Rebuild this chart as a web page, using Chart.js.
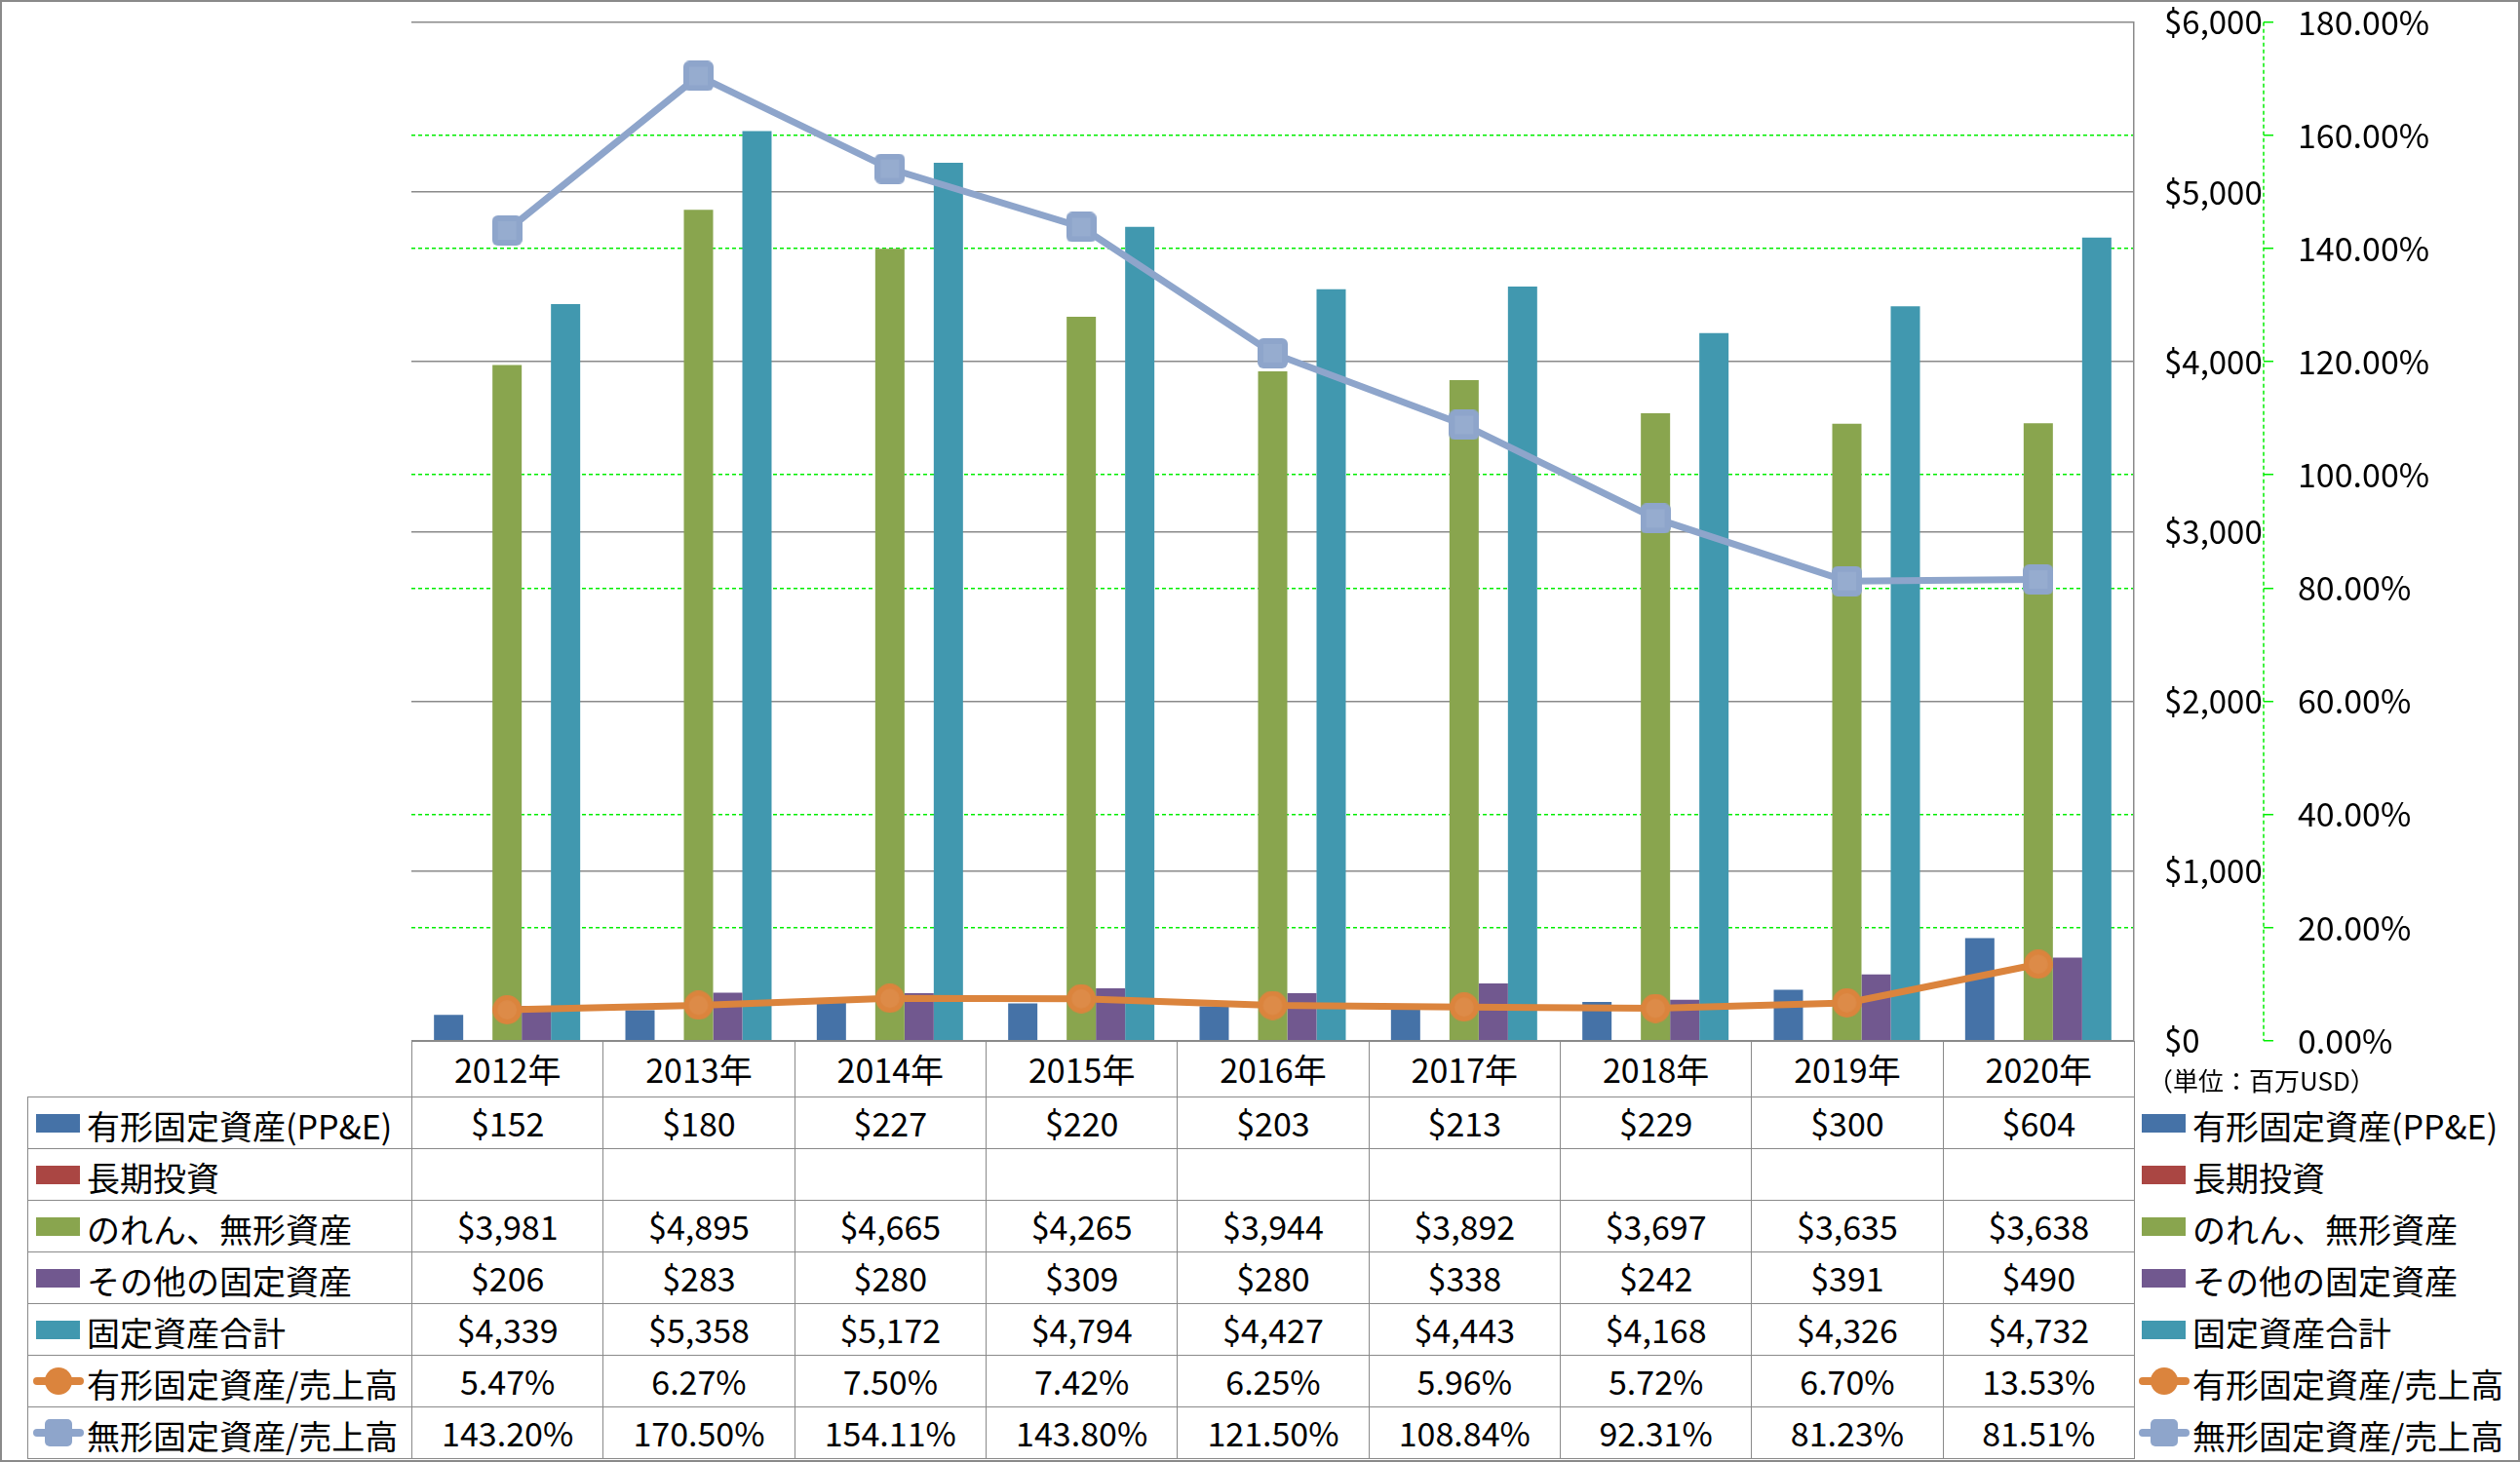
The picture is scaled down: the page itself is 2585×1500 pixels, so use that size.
<!DOCTYPE html>
<html>
<head>
<meta charset="utf-8">
<script src="https://cdn.jsdelivr.net/npm/chart.js@4.4.1/dist/chart.umd.min.js"></script>
<style>
  html, body { margin: 0; padding: 0; background: #fff; overflow: hidden; }
  body { width: 2585px; height: 1500px; position: relative; font-family: "Noto Sans CJK JP", sans-serif; }
  #chart { position: absolute; left: 0; top: 0; z-index: 2; }
  #frame { position: absolute; left: 0; top: 0; width: 2585px; height: 1500px; box-sizing: border-box;
           border: 2px solid #8a8a8a; pointer-events: none; z-index: 5; }
  #unit { position: absolute; left: 2203px; top: 1091px; font-size: 26px; line-height: 34px; z-index: 3; white-space: nowrap; }
  #tbl { position: absolute; left: 28px; top: 1068px; border-collapse: collapse; table-layout: fixed; z-index: 1;
         font-size: 34px; color: #000; }
  #tbl td { border: 1.5px solid #8a8a8a; padding: 0; text-align: center; vertical-align: middle; white-space: nowrap;
            line-height: 1; overflow: hidden; }
  #tbl tr.head td { height: 56px; }
  #tbl tr.body td { height: 52px; }
  #tbl td.blank { border: none; }
  #tbl td.lab { text-align: left; padding-left: 5px; }
  #tbl td.leg { text-align: left; padding-left: 4px; border-top: none; border-bottom: none; border-right: none; }
  .mk { display: inline-block; position: relative; width: 52px; height: 28px; vertical-align: middle; margin-right: 3px; top: -2px; }
  .mk.patch i { position: absolute; left: 3px; top: 5px; width: 45px; height: 19px; }
  .mk.line::before { content: ""; position: absolute; left: 0; right: 0; top: 10px; height: 8px; border-radius: 4px; background: var(--c); }
  .mk.line i { position: absolute; left: 12px; top: 0; width: 28px; height: 28px; background: var(--c); }
  .mk.circle i { border-radius: 50%; }
  .mk.square i { border-radius: 5px; }
  .txt { vertical-align: middle; }
</style>
</head>
<body>
<canvas id="chart" width="2585" height="1200"></canvas>
<table id="tbl"></table>
<div id="unit">（単位：百万USD）</div>
<div id="frame"></div>
<script>
// 年度
const years = ["2012年", "2013年", "2014年", "2015年", "2016年", "2017年", "2018年", "2019年", "2020年"];

// 系列名
const seriesNames = [
    "有形固定資産(PP&E)",
    "長期投資",
    "のれん、無形資産",
    "その他の固定資産",
    "固定資産合計",
    "有形固定資産/売上高",
    "無形固定資産/売上高",
];

// 金額 (百万USD)
const ppe = [152, 180, 227, 220, 203, 213, 229, 300, 604];
const longTermInvest = [null, null, null, null, null, null, null, null, null];
const goodwill = [3981, 4895, 4665, 4265, 3944, 3892, 3697, 3635, 3638];
const otherFixed = [206, 283, 280, 309, 280, 338, 242, 391, 490];
const totalFixed = [4339, 5358, 5172, 4794, 4427, 4443, 4168, 4326, 4732];

// 比率 (%)
const ppeRatio = [5.47, 6.27, 7.50, 7.42, 6.25, 5.96, 5.72, 6.70, 13.53];
const intangibleRatio = [143.20, 170.50, 154.11, 143.80, 121.50, 108.84, 92.31, 81.23, 81.51];

// 軸の目盛り
const moneyTicks = [0, 1000, 2000, 3000, 4000, 5000, 6000];
const ratioTicks = [0, 20, 40, 60, 80, 100, 120, 140, 160, 180];

const colors = ["#4572A7", "#AA4643", "#89A54E", "#71588F", "#4198AF", "#DB843D", "#8EA5CB"];
const fontFamily = "'Noto Sans CJK JP', sans-serif";
const gridGray = "#8a8a8a";
const green = "#00ee00";

// プロット領域の位置 (ページ座標)
const plotTop = 23;
const plotBottom = 1068;

const fmtMoney = (v) => (v === null ? "" : "$" + v.toLocaleString("en-US"));
const fmtPct = (v) => (v === null ? "" : v.toFixed(2) + "%");

// マーカー画像
function makeCircle(d, color) {
    const c = document.createElement("canvas");
    c.width = d; c.height = d;
    const g = c.getContext("2d");
    g.fillStyle = color;
    g.beginPath();
    g.arc(d / 2, d / 2, d / 2, 0, Math.PI * 2);
    g.fill();
    g.fillStyle = "rgba(255,255,255,0.06)";
    g.beginPath();
    g.arc(d / 2, d / 2, d / 2 - 5, 0, Math.PI * 2);
    g.fill();
    return c;
}
function makeSquare(d, color) {
    const c = document.createElement("canvas");
    c.width = d; c.height = d;
    const g = c.getContext("2d");
    g.fillStyle = color;
    g.beginPath();
    g.roundRect(0, 0, d, d, 6);
    g.fill();
    g.fillStyle = "rgba(255,255,255,0.08)";
    g.fillRect(6, 6, d - 12, d - 12);
    return c;
}
const orangeDot = makeCircle(30, colors[5]);
const blueSquare = makeSquare(31, colors[6]);

// 右側の%軸を点線で描く
const dashedAxis = {
    id: "dashedAxis",
    afterDraw(chart) {
        const s = chart.scales.y1;
        const c = chart.ctx;
        c.save();
        c.strokeStyle = green;
        c.lineWidth = 1.5;
        c.setLineDash([4, 3]);
        c.beginPath();
        c.moveTo(s.left, s.top);
        c.lineTo(s.left, s.bottom);
        c.stroke();
        c.restore();
    },
};

const barData = [ppe, longTermInvest, goodwill, otherFixed, totalFixed];
const datasets = barData.map((arr, i) => ({
    type: "bar",
    label: seriesNames[i],
    data: arr,
    backgroundColor: colors[i],
    yAxisID: "y",
    order: 2,
}));
datasets.push({
    type: "line",
    label: seriesNames[5],
    data: ppeRatio,
    yAxisID: "y1",
    borderColor: colors[5],
    borderWidth: 7,
    pointStyle: orangeDot,
    pointRadius: 15,
    tension: 0,
    order: 0,
});
datasets.push({
    type: "line",
    label: seriesNames[6],
    data: intangibleRatio,
    yAxisID: "y1",
    borderColor: colors[6],
    borderWidth: 7,
    pointStyle: blueSquare,
    pointRadius: 15,
    tension: 0,
    order: 1,
});

const canvas = document.getElementById("chart");
const chart = new Chart(canvas, {
    data: { labels: years, datasets: datasets },
    options: {
        responsive: false,
        animation: false,
        layout: { padding: { left: 422, top: 0, right: 0, bottom: 100 } },
        datasets: { bar: { categoryPercentage: 0.764, barPercentage: 1 } },
        plugins: { legend: { display: false }, tooltip: { enabled: false } },
        scales: {
            x: { display: false },
            y: {
                position: "right",
                weight: 0,
                min: 0,
                max: 6000,
                afterBuildTicks: (s) => { s.ticks = moneyTicks.map((v) => ({ value: v })); },
                afterFit: (s) => { s.width = 133; },
                ticks: {
                    crossAlign: "near",
                    padding: 31,
                    color: "#000",
                    font: { family: fontFamily, size: 33 },
                    callback: (v) => fmtMoney(v),
                },
                grid: { color: gridGray, lineWidth: 1.5, drawTicks: false },
                border: { display: true, color: gridGray, width: 1.5 },
            },
            y1: {
                position: "right",
                weight: 1,
                min: 0,
                max: 180,
                afterBuildTicks: (s) => { s.ticks = ratioTicks.map((v) => ({ value: v })); },
                afterFit: (s) => { s.width = 263; },
                ticks: {
                    padding: 25,
                    color: "#000",
                    font: { family: fontFamily, size: 34 },
                    callback: (v) => fmtPct(v),
                },
                grid: {
                    // $軸の線と重なる位置(60%ごと)は灰色の線だけ残す
                    color: (ctx) => (ctx.tick && ctx.tick.value % 60 === 0 ? "rgba(0,0,0,0)" : green),
                    lineWidth: 1.5,
                    tickColor: green,
                    tickLength: 10,
                },
                border: { display: false, dash: [4, 3] },
            },
        },
    },
    plugins: [dashedAxis],
});

// プロット領域を表の上端に合わせる
for (let k = 0; k < 4; k++) {
    const ca = chart.chartArea;
    const offset = plotTop - ca.top;
    const pad = chart.options.layout.padding;
    pad.bottom = Math.max(0, pad.bottom + (ca.bottom + offset - plotBottom));
    chart.update();
}
canvas.style.top = (plotTop - chart.chartArea.top) + "px";

// データテーブルと凡例
const rowData = [ppe, longTermInvest, goodwill, otherFixed, totalFixed, ppeRatio, intangibleRatio];
function marker(i) {
    if (i < 5) return `<span class="mk patch"><i style="background:${colors[i]}"></i></span>`;
    const shape = i === 5 ? "circle" : "square";
    return `<span class="mk line ${shape}" style="--c:${colors[i]}"><i></i></span>`;
}
let html = '<colgroup><col style="width:394px">';
years.forEach(() => { html += '<col style="width:196.33px">'; });
html += '<col style="width:394px"></colgroup>';
html += '<tr class="head"><td class="blank"></td>';
years.forEach((y) => { html += `<td>${y}</td>`; });
html += '<td class="blank"></td></tr>';
rowData.forEach((arr, i) => {
    const fmt = i < 5 ? fmtMoney : fmtPct;
    html += `<tr class="body"><td class="lab">${marker(i)}<span class="txt">${seriesNames[i]}</span></td>`;
    arr.forEach((v) => { html += `<td>${fmt(v)}</td>`; });
    html += `<td class="leg">${marker(i)}<span class="txt">${seriesNames[i]}</span></td></tr>`;
});
const tbl = document.getElementById("tbl");
tbl.style.width = "2555px";
tbl.innerHTML = html;
</script>
</body>
</html>
